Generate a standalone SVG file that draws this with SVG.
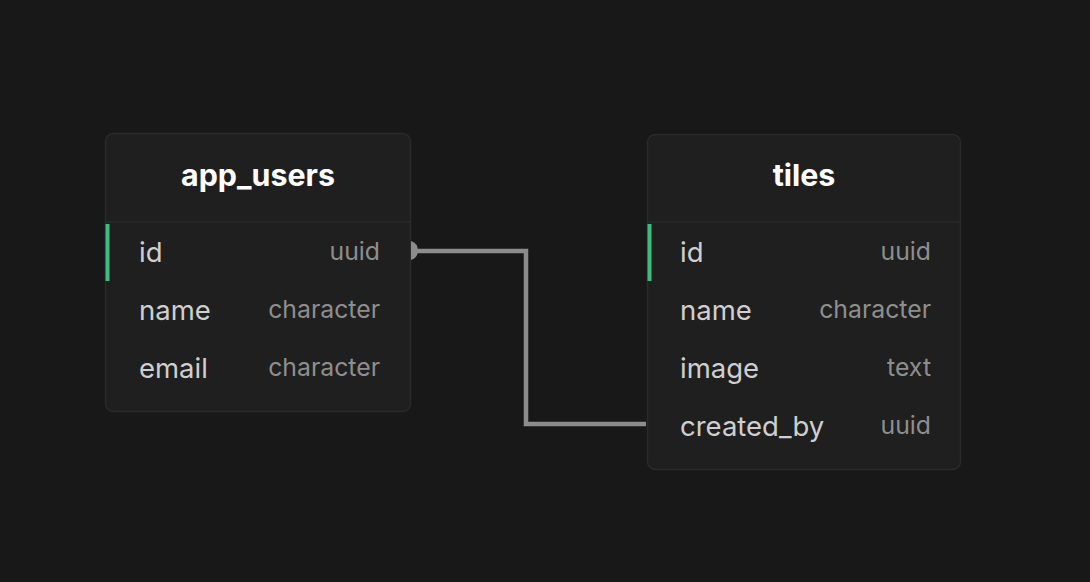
<svg xmlns="http://www.w3.org/2000/svg" width="1090" height="582" viewBox="0 0 1090 582">
<style>
.box{fill:#1f1f1f;stroke:#2a2a2a;stroke-width:1.5}
.sep{stroke:#2a2a2a;stroke-width:1.5}
.title{font-family:Inter,"Liberation Sans",sans-serif;font-weight:700;font-size:30.4px;fill:#ffffff;text-anchor:middle}
.fname{font-family:Inter,"Liberation Sans",sans-serif;font-size:27.5px;fill:#cfcfcf}
.ftype{font-family:Inter,"Liberation Sans",sans-serif;font-size:24.8px;fill:#8e8e8e;text-anchor:end}
.pk{fill:#3dbd7d}
.conn{fill:none;stroke:#8c8c8c;stroke-width:4.5}
</style>
<rect width="1090" height="582" fill="#181818"/>
<g id="app_users">
<rect class="box" x="105.5" y="133.5" width="305" height="278" rx="8"/>
<line class="sep" x1="106" y1="222" x2="410" y2="222"/>
<rect class="pk" x="105.5" y="224" width="4" height="57"/>
<text class="title" x="258" y="186">app_users</text>
<text class="fname" x="139" y="262">id</text><text class="ftype" x="380" y="260">uuid</text>
<text class="fname" x="139" y="320">name</text><text class="ftype" x="380" y="318">character</text>
<text class="fname" x="139" y="378">email</text><text class="ftype" x="380" y="376">character</text>
</g>
<g id="tiles">
<rect class="box" x="647.5" y="134.5" width="313" height="335" rx="8"/>
<line class="sep" x1="648" y1="222" x2="960" y2="222"/>
<rect class="pk" x="647.5" y="224" width="4" height="57"/>
<text class="title" x="804" y="186">tiles</text>
<text class="fname" x="680" y="262">id</text><text class="ftype" x="931" y="260">uuid</text>
<text class="fname" x="680" y="320">name</text><text class="ftype" x="931" y="318">character</text>
<text class="fname" x="680" y="378">image</text><text class="ftype" x="931" y="376">text</text>
<text class="fname" x="680" y="436">created_by</text><text class="ftype" x="931" y="434">uuid</text>
</g>
<g id="connectors">
<polyline class="conn" points="413,251 526,251 526,424 646,424"/>
<path d="M411,241 A10,10 0 0 1 411,260 Z" fill="#8c8c8c"/>
</g>
</svg>
